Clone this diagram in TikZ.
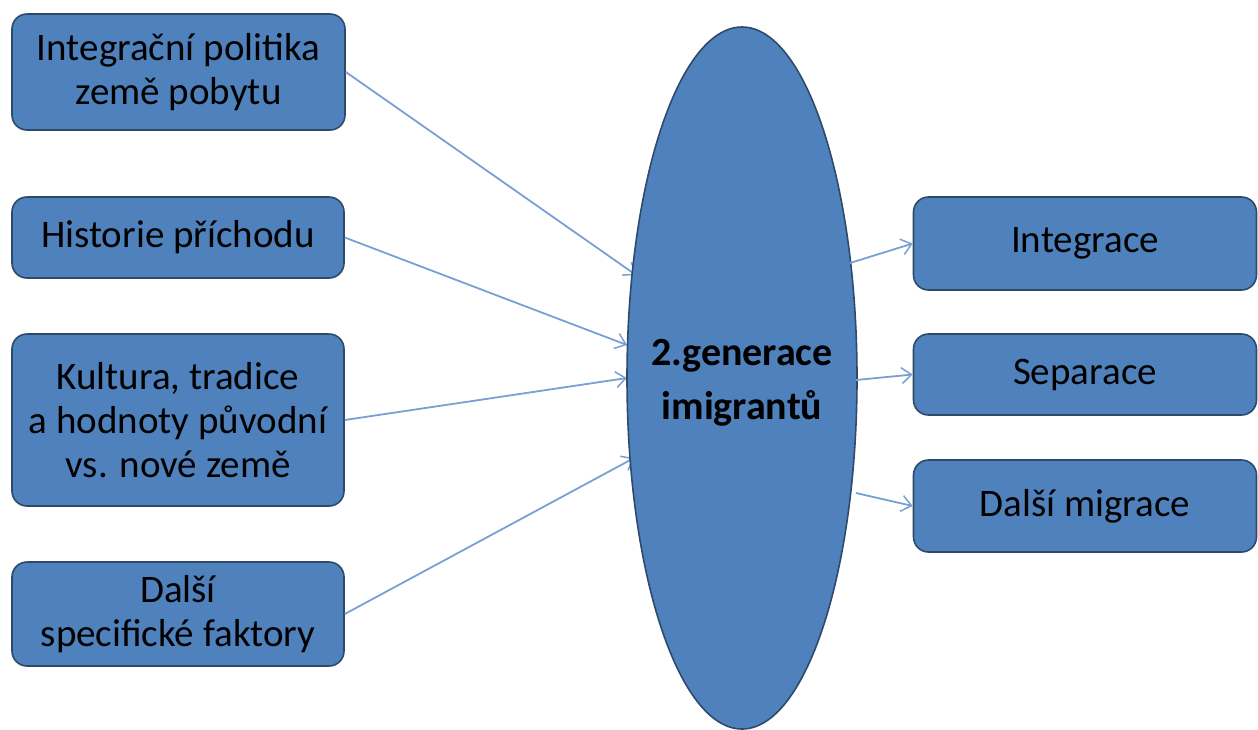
\documentclass[tikz,border=0pt]{standalone}
\usepackage{fontspec}
\setmainfont{Carlito}
\usetikzlibrary{arrows.meta,shapes.geometric}
\definecolor{boxfill}{HTML}{4F81BD}
\definecolor{boxline}{HTML}{2E4A6B}
\definecolor{arrcol}{HTML}{79A0D3}
\tikzset{
  box/.style={draw=boxline, line width=1.6pt, fill=boxfill, rounded corners=15pt, align=center, font=\fontsize{39}{44}\selectfont, inner sep=0pt},
  conn/.style={draw=arrcol, line width=1.8pt, -{Straight Barb[length=10pt,width=16pt,line width=1.5pt]}},
}
\begin{document}
\begin{tikzpicture}[x=1pt,y=-1pt]
\useasboundingbox (0,0) rectangle (1258,729);
% left boxes
\node[box, minimum width=333pt, minimum height=116pt] (b1) at (178.5,72) {Integrační politika\\země pobytu};
\node[box, minimum width=332pt, minimum height=81pt] (b2) at (178,237.5) {Historie příchodu};
\node[box, minimum width=332pt, minimum height=172pt] (b3) at (178,420) {Kultura, tradice\\a hodnoty původní\\vs. nové země};
\node[box, minimum width=332pt, minimum height=104pt] (b4) at (178,614) {Další\\specifické faktory};
% right boxes
\node[box, minimum width=343pt, minimum height=93pt] (r1) at (1085,243.5) {Integrace};
\node[box, minimum width=343pt, minimum height=81pt] (r2) at (1085,374.5) {Separace};
\node[box, minimum width=343pt, minimum height=92pt] (r3) at (1085,506) {Další migrace};
% arrows (partly behind ellipse)
\coordinate (e1) at (636,275);
\coordinate (e2) at (627,345);
\coordinate (e3) at (627,378);
\coordinate (e4) at (634,458);
\draw[conn] (b1.east) -- (e1);
\draw[conn] (b2.east) -- (e2);
\draw[conn] (b3.east) -- (e3);
\draw[conn] (b4.east) -- (e4);
% ellipse
\node[ellipse, draw=boxline, line width=1.6pt, fill=boxfill, minimum width=230pt, minimum height=702pt, inner sep=0pt] (ell) at (742,378) {};
\node[align=center, inner sep=0pt, font=\fontsize{40}{54}\selectfont\bfseries] (elltext) at ([yshift=-5pt]ell.center) {2.generace\\imigrantů};
\coordinate (s1) at (850,263);
\coordinate (s2) at (856,380);
\coordinate (s3) at (856,493);
\draw[conn] (s1) -- (r1.west);
\draw[conn] (s2) -- (r2.west);
\draw[conn] (s3) -- (r3.west);
\end{tikzpicture}
\end{document}
